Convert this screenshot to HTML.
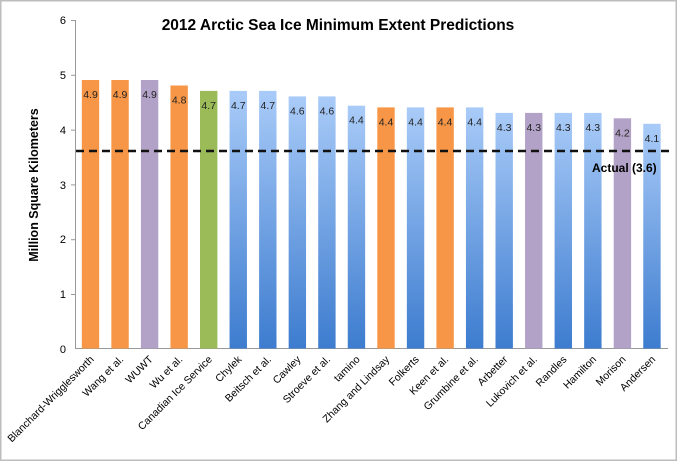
<!DOCTYPE html>
<html><head><style>
body{margin:0;background:#fff}
svg{display:block}
text{font-family:"Liberation Sans",sans-serif}
</style></head><body>
<svg width="677" height="461" xmlns="http://www.w3.org/2000/svg">
<defs>
<linearGradient id="bl" x1="0" y1="0" x2="0" y2="1">
<stop offset="0" stop-color="#a9cbf8"/><stop offset="1" stop-color="#3d7ccf"/>
</linearGradient>
</defs>
<rect x="0.5" y="0.5" width="676" height="460" fill="#fff" stroke="#bdbdbd" stroke-width="2"/>
<text x="338" y="30" text-anchor="middle" font-size="15.5" font-weight="bold">2012 Arctic Sea Ice Minimum Extent Predictions</text>
<text transform="translate(38,185) rotate(-90)" text-anchor="middle" font-size="12.5" font-weight="bold">Million Square Kilometers</text>
<g stroke="#999" stroke-width="1">
<line x1="75.5" y1="20" x2="75.5" y2="349"/>
<line x1="75" y1="348.5" x2="668" y2="348.5"/>
<line x1="71" y1="20.5" x2="75" y2="20.5"/><line x1="71" y1="75.3" x2="75" y2="75.3"/><line x1="71" y1="130.1" x2="75" y2="130.1"/><line x1="71" y1="184.9" x2="75" y2="184.9"/><line x1="71" y1="239.7" x2="75" y2="239.7"/><line x1="71" y1="294.5" x2="75" y2="294.5"/>
</g>
<g font-size="11" text-anchor="end">
<text x="66" y="24">6</text><text x="66" y="79">5</text><text x="66" y="134">4</text><text x="66" y="189">3</text><text x="66" y="243">2</text><text x="66" y="298">1</text><text x="66" y="353">0</text>
</g>
<g>
<rect x="81.8" y="80" width="17.4" height="268.5" fill="#f79646"/>
<rect x="111.35" y="80" width="17.4" height="268.5" fill="#f79646"/>
<rect x="140.9" y="80" width="17.4" height="268.5" fill="#b3a2c7"/>
<rect x="170.45" y="85.5" width="17.4" height="263" fill="#f79646"/>
<rect x="200" y="90.9" width="17.4" height="257.6" fill="#9bbb59"/>
<rect x="229.55" y="90.9" width="17.4" height="257.6" fill="url(#bl)"/>
<rect x="259.1" y="90.9" width="17.4" height="257.6" fill="url(#bl)"/>
<rect x="288.65" y="96.4" width="17.4" height="252.1" fill="url(#bl)"/>
<rect x="318.2" y="96.4" width="17.4" height="252.1" fill="url(#bl)"/>
<rect x="347.75" y="105.7" width="17.4" height="242.8" fill="url(#bl)"/>
<rect x="377.3" y="107.4" width="17.4" height="241.1" fill="#f79646"/>
<rect x="406.85" y="107.4" width="17.4" height="241.1" fill="url(#bl)"/>
<rect x="436.4" y="107.4" width="17.4" height="241.1" fill="#f79646"/>
<rect x="465.95" y="107.4" width="17.4" height="241.1" fill="url(#bl)"/>
<rect x="495.5" y="112.9" width="17.4" height="235.6" fill="url(#bl)"/>
<rect x="525.05" y="112.9" width="17.4" height="235.6" fill="#b3a2c7"/>
<rect x="554.6" y="112.9" width="17.4" height="235.6" fill="url(#bl)"/>
<rect x="584.15" y="112.9" width="17.4" height="235.6" fill="url(#bl)"/>
<rect x="613.7" y="118.3" width="17.4" height="230.2" fill="#b3a2c7"/>
<rect x="643.25" y="123.8" width="17.4" height="224.7" fill="url(#bl)"/>
</g>
<g font-size="10.5" text-anchor="middle" fill="#222">
<text x="90.5" y="98">4.9</text><text x="120.05" y="98">4.9</text><text x="149.6" y="98">4.9</text><text x="179.15" y="103.5">4.8</text><text x="208.7" y="109">4.7</text><text x="238.25" y="109">4.7</text><text x="267.8" y="109">4.7</text><text x="297.35" y="114.4">4.6</text><text x="326.9" y="114.4">4.6</text><text x="356.45" y="123.7">4.4</text><text x="386" y="125.4">4.4</text><text x="415.55" y="125.4">4.4</text><text x="445.1" y="125.4">4.4</text><text x="474.65" y="125.4">4.4</text><text x="504.2" y="130.9">4.3</text><text x="533.75" y="130.9">4.3</text><text x="563.3" y="130.9">4.3</text><text x="592.85" y="130.9">4.3</text><text x="622.4" y="136.3">4.2</text><text x="651.95" y="141.8">4.1</text>
</g>
<g font-size="10.5" text-anchor="end">
<text transform="translate(94.5,360) rotate(-45)">Blanchard-Wrigglesworth</text>
<text transform="translate(124.05,360) rotate(-45)">Wang et al.</text>
<text transform="translate(153.6,360) rotate(-45)">WUWT</text>
<text transform="translate(183.15,360) rotate(-45)">Wu et al.</text>
<text transform="translate(212.7,360) rotate(-45)">Canadian Ice Service</text>
<text transform="translate(242.25,360) rotate(-45)">Chylek</text>
<text transform="translate(271.8,360) rotate(-45)">Beitsch et al.</text>
<text transform="translate(301.35,360) rotate(-45)">Cawley</text>
<text transform="translate(330.9,360) rotate(-45)">Stroeve et al.</text>
<text transform="translate(360.45,360) rotate(-45)">tamino</text>
<text transform="translate(390,360) rotate(-45)">Zhang and Lindsay</text>
<text transform="translate(419.55,360) rotate(-45)">Folkerts</text>
<text transform="translate(449.1,360) rotate(-45)">Keen et al.</text>
<text transform="translate(478.65,360) rotate(-45)">Grumbine et al.</text>
<text transform="translate(508.2,360) rotate(-45)">Arbetter</text>
<text transform="translate(537.75,360) rotate(-45)">Lukovich et al.</text>
<text transform="translate(567.3,360) rotate(-45)">Randles</text>
<text transform="translate(596.85,360) rotate(-45)">Hamilton</text>
<text transform="translate(626.4,360) rotate(-45)">Morison</text>
<text transform="translate(655.95,360) rotate(-45)">Andersen</text>
</g>
<line x1="76" y1="151" x2="672" y2="151" stroke="#111" stroke-width="2.5" stroke-dasharray="8,5"/>
<text x="592" y="172" font-size="12" font-weight="bold">Actual (3.6)</text>
</svg>
</body></html>
